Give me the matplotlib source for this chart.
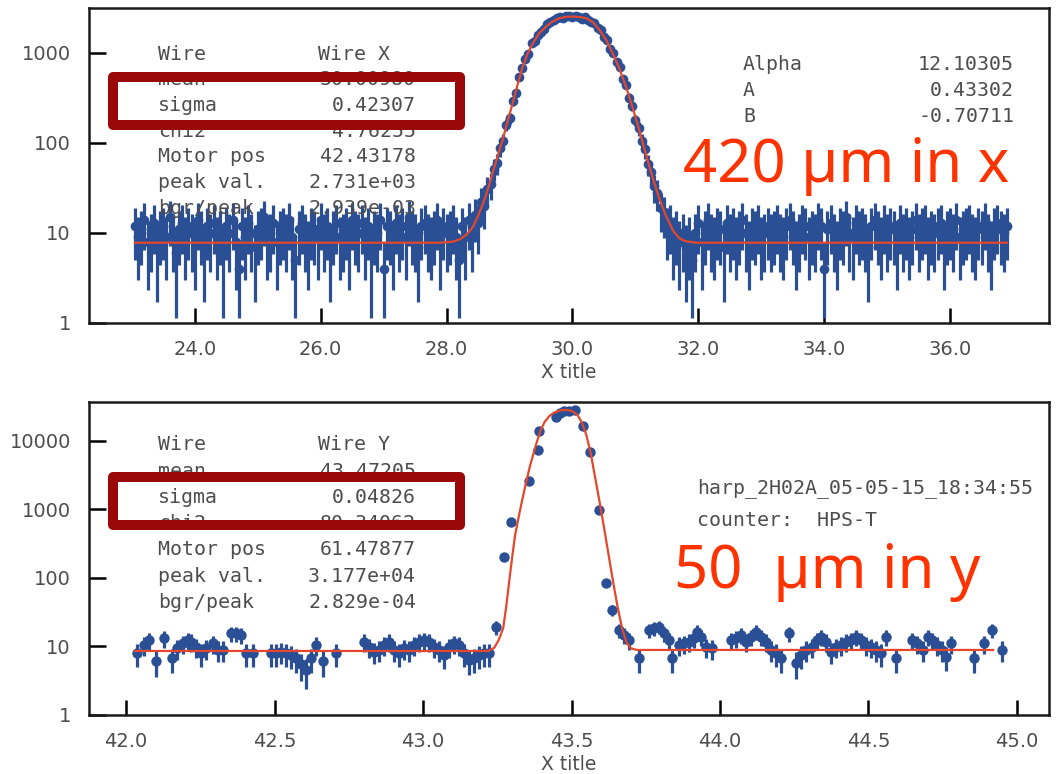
import numpy as np
import matplotlib
matplotlib.use('Agg')
import matplotlib.pyplot as plt
from matplotlib.patches import Rectangle

# ---------------- data (top: Wire X) ----------------
top_left_x = np.round(np.arange(23.05, 28.2001, 0.05), 3)
top_left_y = [12, 9, 11, 14, 8, 10, 13, 7, 11, 12, 9, 15, 10, 6, 11, 13, 9, 12, 10, 8,
              14, 11, 7, 12, 10, 13, 9, 11, 6, 12, 10, 14, 8, 4, 12, 9, 13, 10, 7, 11,
              12, 15, 9, 10, 13, 8, 11, 12, 10, 14, 9, 5, 11, 13, 10, 8, 12, 11, 9, 14,
              10, 12, 7, 11, 13, 9, 10, 12, 8, 14, 11, 10, 13, 9, 12, 6, 11, 10, 14, 4,
              12, 11, 8, 13, 10, 12, 9, 15, 11, 10, 7, 12, 13, 10, 9, 11, 14, 8, 12, 10,
              11, 13, 9, 5]
top_peak_x = np.round(np.arange(28.25, 31.8001, 0.05), 3)
top_peak_y = [12, 9, 14, 10, 16, 13, 22, 20, 31, 35, 52, 60, 88, 105, 160, 190, 290, 360,
              540, 680, 860, 980, 1300, 1350, 1600, 1720, 1850, 2100, 2200, 2300, 2450,
              2500, 2420, 2550, 2600, 2480, 2560, 2520, 2400, 2480, 2350, 2200, 2150,
              1880, 1800, 1500, 1400, 1100, 1000, 800, 700, 510, 440, 320, 260, 180, 145,
              105, 85, 58, 48, 33, 28, 19, 17, 12, 13, 9, 11, 8, 10, 7]
top_right_x = np.round(np.arange(31.85, 36.9001, 0.05), 3)
top_right_y = [9, 5, 10, 13, 8, 11, 14, 10, 9, 12, 11, 7, 13, 10, 12, 9, 11, 14, 10, 8,
               12, 11, 13, 9, 10, 12, 10, 11, 13, 10, 9, 12, 14, 11, 8, 10, 13, 12, 9, 11,
               10, 14, 12, 4, 11, 13, 10, 8, 12, 11, 15, 10, 9, 13, 11, 12, 10, 7, 12, 14,
               11, 9, 13, 10, 12, 11, 8, 13, 10, 12, 9, 11, 14, 10, 12, 13, 9, 11, 10, 12,
               13, 8, 11, 12, 10, 14, 9, 11, 12, 13, 10, 9, 12, 11, 14, 10, 8, 12, 13, 11,
               10, 12]
top_fit_x = [23.05, 27.89, 28.10, 28.21, 28.32, 28.42, 28.50, 28.58, 28.66, 28.73, 28.81,
             28.89, 28.97, 29.05, 29.13, 29.21, 29.29, 29.37, 29.47, 29.58, 29.68, 29.79,
             29.90, 30.0, 30.11, 30.22, 30.33, 30.43, 30.54, 30.64, 30.75, 30.85, 30.95,
             31.06, 31.16, 31.27, 31.38, 31.49, 31.60, 31.70, 31.80, 31.96, 36.9]
top_fit_y = [7.8, 7.8, 8.0, 8.5, 9.6, 11.7, 15.5, 21.4, 31, 46, 71,
             108, 175, 277, 450, 707, 990, 1280, 1650, 1960, 2230, 2430,
             2520, 2540, 2510, 2430, 2180, 1800, 1380, 990, 660, 423, 255,
             139, 78, 42, 24, 15.2, 10.6, 8.7, 8.1, 7.8, 7.8]
top_err_scale = 2.0

# ---------------- data (bottom: Wire Y) ----------------
bot_left_x = [42.038, 42.060, 42.077, 42.100, 42.128, 42.156, 42.173, 42.190, 42.207, 42.218,
              42.235, 42.252, 42.268, 42.291, 42.308, 42.325, 42.353, 42.370, 42.386, 42.403,
              42.426, 42.487, 42.504, 42.521, 42.538, 42.555, 42.572, 42.588, 42.605, 42.622,
              42.639, 42.662, 42.706, 42.802, 42.819, 42.836, 42.852, 42.869, 42.886, 42.903,
              42.920, 42.937, 42.953, 42.970, 42.987, 43.004, 43.021, 43.038, 43.055, 43.072,
              43.088, 43.105, 43.122, 43.139, 43.156, 43.173, 43.190, 43.206, 43.223]
bot_left_y = [7.9, 10.5, 12.4, 6.1, 13.2, 6.7, 9.4, 11.1, 12.4, 11.7,
              9.9, 7.9, 9.4, 11.1, 8.9, 8.9, 15.6, 15.6, 14.7, 7.9,
              7.9, 7.9, 7.9, 8.4, 7.9, 7.5, 6.7, 5.5, 4.5, 6.7,
              10.5, 6.1, 7.9, 11.7, 9.9, 8.4, 8.9, 10.5, 11.7, 8.9,
              7.9, 9.4, 8.9, 10.5, 11.7, 12.4, 11.7, 9.9, 8.9, 7.5,
              9.9, 11.1, 10.5, 7.9, 6.4, 6.7, 7.5, 7.9, 7.9]
bot_peak_x = [43.246, 43.274, 43.297, 43.358, 43.386, 43.392, 43.448, 43.462, 43.476,
              43.493, 43.513, 43.538, 43.561, 43.592, 43.617]
bot_peak_y = [19, 204, 660, 2600, 7400, 14000, 22600, 25500, 27400,
              27000, 28000, 16700, 6800, 985, 84]
bot_right_x = [43.637, 43.660, 43.677, 43.694, 43.727, 43.761, 43.778, 43.796, 43.811, 43.828,
               43.839, 43.862, 43.878, 43.896, 43.912, 43.924, 43.935, 43.952, 43.974, 44.036,
               44.053, 44.070, 44.086, 44.103, 44.120, 44.137, 44.154, 44.171, 44.187, 44.204,
               44.232, 44.255, 44.272, 44.288, 44.311, 44.328, 44.339, 44.356, 44.373, 44.390,
               44.407, 44.423, 44.440, 44.457, 44.474, 44.491, 44.508, 44.524, 44.541, 44.558,
               44.592, 44.648, 44.665, 44.682, 44.699, 44.715, 44.732, 44.749, 44.760, 44.777,
               44.855, 44.889, 44.917, 44.951]
bot_right_y = [34, 17.4, 14.7, 12.4, 6.7, 17.4, 18.4, 19.5, 15.6, 12.4,
               6.7, 10.5, 11.1, 11.7, 13.2, 16.5, 13.9, 9.9, 9.4, 12.4,
               13.2, 14.7, 11.7, 13.9, 16.5, 13.9, 11.7, 8.9, 7.9, 6.7,
               15.6, 5.8, 7.5, 8.9, 9.9, 12.4, 13.9, 11.7, 8.4, 9.9,
               10.5, 11.7, 12.4, 13.9, 12.4, 10.5, 9.9, 8.9, 7.9, 13.9,
               6.7, 12.4, 11.1, 8.9, 13.9, 12.4, 10.5, 8.9, 7.1, 11.1,
               6.7, 11.1, 17.4, 8.9]
bot_fit_x = [42.03, 43.22, 43.24, 43.255, 43.27, 43.28, 43.29, 43.30, 43.31, 43.325,
             43.34, 43.36, 43.38, 43.395, 43.41, 43.425, 43.44, 43.46, 43.48, 43.50,
             43.52, 43.535, 43.55, 43.565, 43.58, 43.595, 43.61, 43.625, 43.64, 43.655,
             43.67, 43.685, 43.70, 43.72, 44.92]
bot_fit_y = [8.6, 8.6, 9.6, 12.5, 18.6, 38, 88, 200, 424, 900,
             1820, 4300, 8700, 14000, 19100, 23000, 25700, 27800, 28400, 27600,
             24000, 18500, 12200, 6500, 2850, 1250, 530, 215, 88, 38,
             18.6, 11.5, 9.4, 8.9, 8.9]
bot_err_scale = 1.0

top_stats = [("Wire", "Wire X", True), ("mean", "30.00980", False), ("sigma", "0.42307", False),
             ("chi2", "4.76255", False), ("Motor pos", "42.43178", False),
             ("peak val.", "2.731e+03", False), ("bgr/peak", "2.939e-03", False)]
bot_stats = [("Wire", "Wire Y", True), ("mean", "43.47205", False), ("sigma", "0.04826", False),
             ("chi2", "80.34062", False), ("Motor pos", "61.47877", False),
             ("peak val.", "3.177e+04", False), ("bgr/peak", "2.829e-04", False)]
fit_params = [("Alpha", "12.10305"), ("A", "0.43302"), ("B", "-0.70711")]

top_xticks = [24, 26, 28, 30, 32, 34, 36]
bot_xticks = [42.0, 42.5, 43.0, 43.5, 44.0, 44.5, 45.0]
top_yticks = [1, 10, 100, 1000]
bot_yticks = [1, 10, 100, 1000, 10000]

# ---------------- styling ----------------
W, H = 1061, 774
BLUE = '#2b4f95'
RED = '#e4472c'
BOX = '#9a0808'
TXT = '#4d4d4d'
NARROW = ['Liberation Sans Narrow', 'DejaVu Sans']

fig = plt.figure(figsize=(W / 100, H / 100), dpi=100)


def rect(l, t, r, b):
    return [l / W, 1 - b / H, (r - l) / W, (b - t) / H]


def fx(px):
    return px / W


def fy(py):
    return 1 - py / H


def draw(ax, xs, ys, fx_, fy_, err_scale, ms, xlim, ylim, xticks, yticks):
    x = np.concatenate([np.asarray(a, float) for a in xs])
    y = np.concatenate([np.asarray(a, float) for a in ys])
    err = err_scale * np.sqrt(y)
    lo = np.minimum(err, y - 1.15)
    ax.errorbar(x, y, yerr=[lo, err], fmt='o', color=BLUE, ms=ms, mew=0,
                elinewidth=2.3, capsize=0, zorder=2)
    ax.plot(fx_, fy_, color=RED, lw=1.6, zorder=3)
    ax.set_yscale('log')
    ax.set_xlim(*xlim)
    ax.set_ylim(*ylim)
    ax.minorticks_off()
    ax.set_yticks(yticks)
    ax.set_yticklabels([str(v) for v in yticks], fontsize=14, color=TXT,
                       family='DejaVu Sans')
    ax.set_xticks(xticks)
    ax.set_xticklabels(['%.1f' % v for v in xticks], fontsize=14, color=TXT,
                       family=NARROW)
    ax.tick_params(axis='y', direction='in', length=12, width=1.8, pad=13,
                   left=True, right=False)
    ax.tick_params(axis='x', direction='in', length=11, width=1.8, pad=12,
                   bottom=True, top=False)
    for s in ax.spines.values():
        s.set_linewidth(1.8)
        s.set_color('#1a1a1a')
    ax.set_xlabel('X title', fontsize=13.5, color=TXT, family=NARROW, labelpad=3)


ax1 = fig.add_axes(rect(89, 8, 1049, 323))
draw(ax1, [top_left_x, top_peak_x, top_right_x], [top_left_y, top_peak_y, top_right_y],
     top_fit_x, top_fit_y, top_err_scale, 7, (22.32, 37.57), (1, 3160), top_xticks, top_yticks)

ax2 = fig.add_axes(rect(89, 402, 1049, 715))
draw(ax2, [bot_left_x, bot_peak_x, bot_right_x], [bot_left_y, bot_peak_y, bot_right_y],
     bot_fit_x, bot_fit_y, bot_err_scale, 7.5, (41.875, 45.108), (1, 37000), bot_xticks, bot_yticks)

MONO = dict(family='DejaVu Sans Mono', fontsize=14.3, color=TXT, va='center')


def stats(rows, y0, dy):
    for i, (k, v, left_val) in enumerate(rows):
        yy = fy(y0 + i * dy)
        fig.text(fx(158), yy, k, ha='left', zorder=5, **MONO)
        if left_val:
            fig.text(fx(318), yy, v, ha='left', zorder=5, **MONO)
        else:
            fig.text(fx(416), yy, v, ha='right', zorder=5, **MONO)


stats(top_stats, 54, 25.7)
stats(bot_stats, 445, 26.2)

for i, (k, v) in enumerate(fit_params):
    yy = fy(64 + i * 26)
    fig.text(fx(743), yy, k, ha='left', **MONO)
    fig.text(fx(1014), yy, v, ha='right', **MONO)

fig.text(fx(697), fy(488), "harp_2H02A_05-05-15_18:34:55", ha='left', **MONO)
fig.text(fx(697), fy(520), "counter:  HPS-T", ha='left', **MONO)

for t in (77, 477):
    r = Rectangle((fx(113), fy(t + 48)), fx(347), 48 / H, transform=fig.transFigure,
                  fill=False, edgecolor=BOX, lw=7.2, joinstyle='round', zorder=10)
    fig.add_artist(r)

BIG = dict(family='Noto Sans', fontsize=43, color='#ff3300', ha='left', va='center')
fig.text(fx(683), fy(166), "420 \u00b5m in x", **BIG)
fig.text(fx(674), fy(572), "50  \u00b5m in y", **BIG)

fig.savefig('out.png', dpi=100, facecolor='white')
